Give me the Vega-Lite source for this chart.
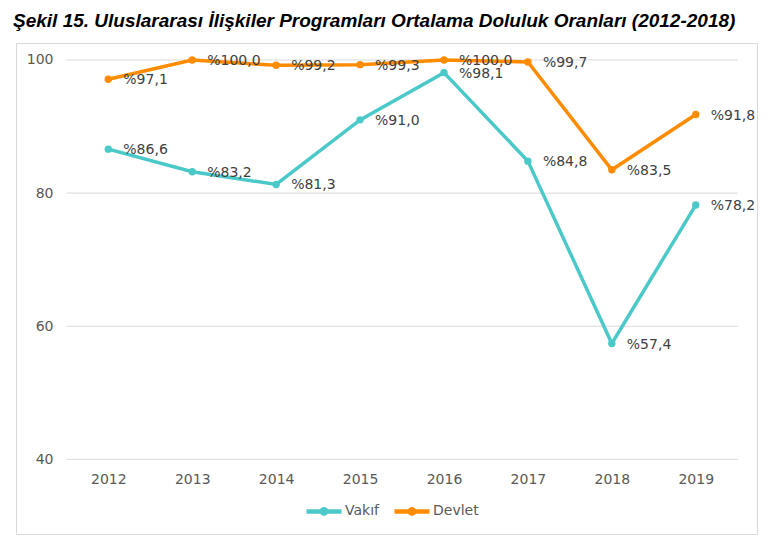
{
  "$schema": "https://vega.github.io/schema/vega-lite/v6.json",
  "description": "Uluslararası İlişkiler programları ortalama doluluk oranları, Vakıf ve Devlet üniversiteleri.",
  "width": 741,
  "height": 491,
  "autosize": "none",
  "padding": {"left": 16, "top": 43, "right": 11, "bottom": 9},
  "title": {
    "text": "Şekil 15. Uluslararası İlişkiler Programları Ortalama Doluluk Oranları (2012-2018)",
    "anchor": "start",
    "frame": "group",
    "font": "Liberation Sans",
    "fontSize": 19,
    "fontWeight": "bold",
    "fontStyle": "italic",
    "color": "#000000",
    "dx": -3,
    "offset": 12
  },
  "datasets": {
    "series": [
      {"year": 2012, "type": "Vakıf", "value": 86.6},
      {"year": 2013, "type": "Vakıf", "value": 83.2},
      {"year": 2014, "type": "Vakıf", "value": 81.3},
      {"year": 2015, "type": "Vakıf", "value": 91.0},
      {"year": 2016, "type": "Vakıf", "value": 98.1},
      {"year": 2017, "type": "Vakıf", "value": 84.8},
      {"year": 2018, "type": "Vakıf", "value": 57.4},
      {"year": 2019, "type": "Vakıf", "value": 78.2},
      {"year": 2012, "type": "Devlet", "value": 97.1},
      {"year": 2013, "type": "Devlet", "value": 100.0},
      {"year": 2014, "type": "Devlet", "value": 99.2},
      {"year": 2015, "type": "Devlet", "value": 99.3},
      {"year": 2016, "type": "Devlet", "value": 100.0},
      {"year": 2017, "type": "Devlet", "value": 99.7},
      {"year": 2018, "type": "Devlet", "value": 83.5},
      {"year": 2019, "type": "Devlet", "value": 91.8}
    ],
    "grid": [{"y": 40}, {"y": 60}, {"y": 80}, {"y": 100}]
  },
  "layer": [
    {
      "data": {"name": "grid"},
      "mark": {"type": "rule", "color": "#d9d9d9", "strokeWidth": 1},
      "encoding": {
        "y": {"field": "y", "type": "quantitative", "scale": {"domain": [28.78, 102.55], "nice": false, "zero": false}},
        "x": {"datum": 2011.5, "type": "quantitative"},
        "x2": {"datum": 2019.5}
      }
    },
    {
      "data": {"name": "series"},
      "transform": [
        {"calculate": "'%' + replace(format(datum.value, '.1f'), '.', ',')", "as": "label"}
      ],
      "encoding": {
        "x": {
          "field": "year",
          "type": "quantitative",
          "scale": {"domain": [2010.9, 2019.73], "nice": false, "zero": false},
          "axis": {
            "values": [2012, 2013, 2014, 2015, 2016, 2017, 2018, 2019],
            "format": "d",
            "title": null,
            "grid": false,
            "domain": false,
            "ticks": false,
            "labelFlush": false,
            "offset": -62,
            "labelPadding": 0,
            "labelFont": "DejaVu Sans",
            "labelFontSize": 14,
            "labelColor": "#595959"
          }
        },
        "y": {
          "field": "value",
          "type": "quantitative",
          "axis": {
            "values": [40, 60, 80, 100],
            "title": null,
            "grid": false,
            "domain": false,
            "ticks": false,
            "offset": -40,
            "labelPadding": 3,
            "labelFont": "DejaVu Sans",
            "labelFontSize": 14,
            "labelColor": "#595959"
          }
        },
        "color": {
          "field": "type",
          "type": "nominal",
          "scale": {"domain": ["Vakıf", "Devlet"], "range": ["#4BC9C9", "#FF8C00"]},
          "legend": {
            "title": null,
            "orient": "none",
            "direction": "horizontal",
            "legendX": 288,
            "legendY": 448,
            "padding": 0,
            "symbolType": "M-1,0H1M-0.12,0a0.12,0.12 0 1,0 0.24,0a0.12,0.12 0 1,0 -0.24,0",
            "symbolSize": 1225,
            "symbolStrokeWidth": 4.5,
            "labelOffset": 1,
            "columnPadding": 6,
            "labelFont": "DejaVu Sans",
            "labelFontSize": 14,
            "labelColor": "#595959",
            "encode": {
              "symbols": {
                "update": {
                  "stroke": {"scale": "color", "field": "value"},
                  "fill": {"scale": "color", "field": "value"},
                  "strokeWidth": {"value": 4.5},
                  "opacity": {"value": 1}
                }
              }
            }
          }
        }
      },
      "layer": [
        {"mark": {"type": "line", "strokeWidth": 3.5}},
        {"mark": {"type": "point", "filled": true, "size": 55, "opacity": 1}},
        {
          "mark": {"type": "text", "align": "left", "baseline": "middle", "dx": 15, "dy": 1, "font": "DejaVu Sans", "fontSize": 14, "color": "#404040"},
          "encoding": {"text": {"field": "label"}, "color": {"value": "#404040"}}
        }
      ]
    }
  ],
  "config": {
    "view": {"stroke": "#d9d9d9", "strokeWidth": 1},
    "background": "#ffffff"
  }
}
